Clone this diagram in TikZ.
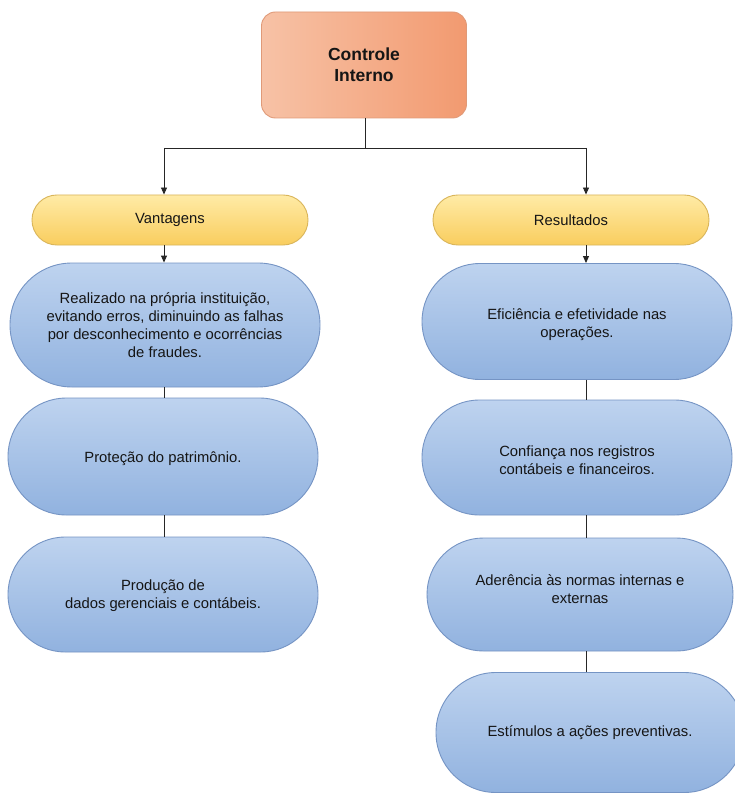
\documentclass[tikz,border=0pt]{standalone}
\usepackage{fontspec}
\setmainfont{Liberation Sans}
\usetikzlibrary{arrows.meta}

\definecolor{txt}{HTML}{151515}
\definecolor{orgL}{HTML}{F7C2A6}
\definecolor{orgR}{HTML}{F29A70}
\definecolor{orgLine}{HTML}{E09A78}
\definecolor{yelTop}{HTML}{FFEBA6}
\definecolor{yelBot}{HTML}{F9CD5E}
\definecolor{yelLine}{HTML}{D9B55A}
\definecolor{bluTop}{HTML}{BED3EF}
\definecolor{bluBot}{HTML}{91B2DF}
\definecolor{bluLine}{HTML}{7594C4}

\tikzset{
  bodytext/.style={text=txt, align=center, inner sep=0pt,
    font=\fontsize{14.8}{17.8}\selectfont},
  rootbox/.style={bodytext, draw=orgLine, line width=0.9pt, shade,
    left color=orgL, right color=orgR, rounded corners=14pt,
    minimum width=205pt, minimum height=106pt,
    font=\fontsize{17.5}{21}\selectfont\bfseries},
  groupbox/.style={bodytext, draw=yelLine, line width=0.9pt, shade,
    top color=yelTop, bottom color=yelBot, rounded corners=24.9pt,
    minimum width=276pt, minimum height=50pt},
  itembox/.style={draw=bluLine, line width=0.9pt, shade,
    top color=bluTop, bottom color=bluBot, inner sep=0pt},
  link/.style={draw=black!85, line width=0.9pt},
  arrowlink/.style={link, -{Triangle[length=7pt,width=6pt]}}
}

\begin{document}
\begin{tikzpicture}[x=1pt, y=-1pt]
  \useasboundingbox (0,0) rectangle (735,794);
  \fill[white] (0,0) rectangle (735,794);
  \clip (0,0) rectangle (735,794);

  % root
  \node[rootbox] (root) at (364,65) {Controle\\Interno};

  % group headers
  \node[groupbox] (vant) at (170,220) {Vantagens};
  \node[groupbox] (res)  at (571,220) {Resultados};

  % left column: pill shapes, then their captions
  \node[itembox, minimum width=310pt, minimum height=124pt, rounded corners=61.9pt]
    (l1) at (165,325) {};
  \node[itembox, minimum width=310pt, minimum height=117pt, rounded corners=58.4pt]
    (l2) at (163,456.5) {};
  \node[itembox, minimum width=310pt, minimum height=115pt, rounded corners=57.4pt]
    (l3) at (163,594.5) {};
  \node[bodytext] (l1t) at (165,325)
    {Realizado na própria instituição,\\evitando erros, diminuindo as falhas\\por desconhecimento e ocorrências\\de fraudes.};
  \node[bodytext] (l2t) at (163,459) {Proteção do patrimônio.};
  \node[bodytext] (l3t) at (163,595.5) {Produção de\\dados gerenciais e contábeis.};

  % right column
  \node[itembox, minimum width=310pt, minimum height=116pt, rounded corners=57.9pt]
    (r1) at (577,321.5) {};
  \node[itembox, minimum width=310pt, minimum height=115pt, rounded corners=57.4pt]
    (r2) at (577,457.5) {};
  \node[itembox, minimum width=306pt, minimum height=113pt, rounded corners=56.4pt]
    (r3) at (580,594.5) {};
  \node[itembox, minimum width=308pt, minimum height=120pt, rounded corners=59.9pt]
    (r4) at (590,732.5) {};
  \node[bodytext] (r1t) at (577,324.5) {Eficiência e efetividade nas\\operações.};
  \node[bodytext] (r2t) at (577,460.5) {Confiança nos registros\\contábeis e financeiros.};
  \node[bodytext] (r3t) at (580,589) {Aderência às normas internas e\\externas};
  \node[bodytext] (r4t) at (590,732.5) {Estímulos a ações preventivas.};

  % branch from the root
  \coordinate (jc) at (365,148);
  \coordinate (jl) at (164,148);
  \coordinate (jr) at (586,148);
  \draw[link] (root.south -| jc) -- (jc);
  \draw[link] (jl) -- (jr);
  \draw[arrowlink] (jl) -- (jl |- vant.north);
  \draw[arrowlink] (jr) -- (jr |- res.north);

  % left chain
  \draw[arrowlink] (jl |- vant.south) -- (jl |- l1.north);
  \draw[link] (jl |- l1.south) -- (jl |- l2.north);
  \draw[link] (jl |- l2.south) -- (jl |- l3.north);

  % right chain
  \draw[arrowlink] (jr |- res.south) -- (jr |- r1.north);
  \draw[link] (jr |- r1.south) -- (jr |- r2.north);
  \draw[link] (jr |- r2.south) -- (jr |- r3.north);
  \draw[link] (jr |- r3.south) -- (jr |- r4.north);
\end{tikzpicture}
\end{document}
